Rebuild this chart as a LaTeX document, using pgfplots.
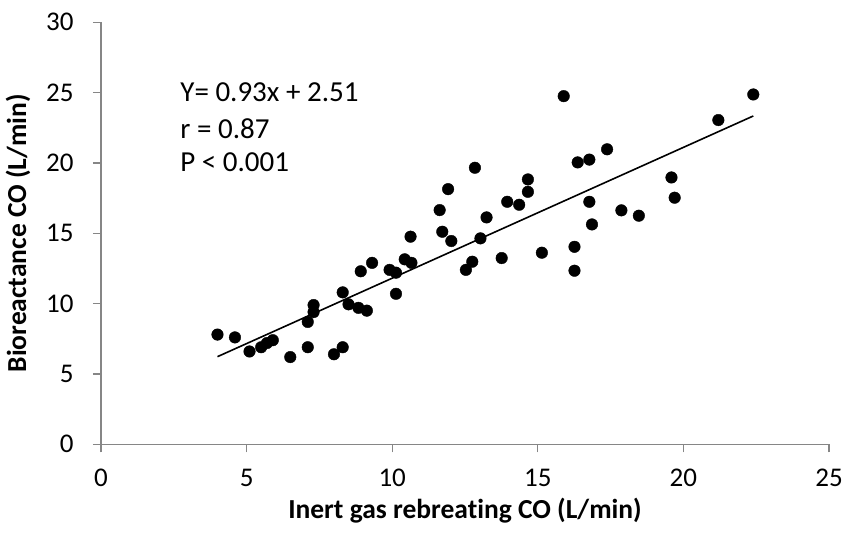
\documentclass[border=0pt]{standalone}
\usepackage{pgfplots}
\pgfplotsset{compat=1.18}
\usepackage{fontspec}
\setmainfont{Carlito}[Ligatures=NoCommon]
\definecolor{axgray}{RGB}{134,134,134}
\begin{document}
\begin{tikzpicture}
\useasboundingbox (-101bp,-93.7bp) rectangle (746bp,444.3bp);
\begin{axis}[
  scale only axis,
  width=728bp, height=422bp,
  xmin=0, xmax=25, ymin=0, ymax=30,
  xtick={0,5,...,25}, ytick={0,5,...,30},
  axis lines=left,
  axis line style={-, axgray, line width=1.2bp},
  tick style={axgray, line width=1.2bp},
  tick align=outside,
  major tick length=8bp,
  /pgf/number format/assume math mode=true,
  tick label style={font=\fontsize{27bp}{30bp}\selectfont},
  xticklabel style={yshift=-13bp},
  yticklabel style={xshift=-16bp},
  xlabel={\textbf{Inert gas rebreating CO (L/min)}},
  ylabel={\textbf{Bioreactance CO (L/min)}},
  label style={font=\fontsize{27.5bp}{30bp}\selectfont},
  xlabel style={at={(axis description cs:0.5,-0.1754)}, anchor=base},
  ylabel style={at={(axis description cs:-0.103,0.5)}, anchor=base},
  clip=false,
]
\addplot[only marks, mark=*, mark size=5.8bp, mark options={fill=black, draw=black}] coordinates {
(4.0,7.8) (4.6,7.6) (5.1,6.6) (5.5,6.9) (5.7,7.2) (5.9,7.4) (6.5,6.2)
(7.1,8.7) (7.1,6.9) (7.3,9.9) (7.3,9.4) (8.0,6.4) (8.3,6.9) (8.3,10.8)
(8.5,9.95) (8.84,9.7) (9.13,9.5) (8.92,12.3) (9.31,12.9) (9.91,12.4)
(10.13,12.2) (10.13,10.7) (10.43,13.15) (10.66,12.9) (10.63,14.76)
(11.63,16.65) (11.92,18.14) (11.72,15.11) (12.03,14.45) (12.53,12.4)
(12.75,12.98) (12.84,19.66) (13.03,14.64) (13.24,16.13) (13.76,13.24)
(13.95,17.24) (14.36,17.03) (14.66,18.83) (14.66,17.95) (15.14,13.62)
(16.26,14.04) (16.26,12.34) (16.37,20.04) (16.77,20.24) (15.89,24.75)
(17.38,20.97) (16.77,17.24) (16.86,15.63) (17.87,16.63) (18.47,16.25)
(19.59,18.97) (19.7,17.53) (21.2,23.05) (22.4,24.87)
};
\addplot[black, line width=1.6bp] coordinates {(4.0,6.23) (22.4,23.34)};
\node[anchor=base west, inner sep=0pt, font=\fontsize{29bp}{32bp}\selectfont] at (axis cs:2.72,24.35) {Y= 0.93x + 2.51};
\node[anchor=base west, inner sep=0pt, font=\fontsize{29bp}{32bp}\selectfont] at (axis cs:2.72,21.75) {r = 0.87};
\node[anchor=base west, inner sep=0pt, font=\fontsize{29bp}{32bp}\selectfont] at (axis cs:2.72,19.37) {P < 0.001};
\end{axis}
\end{tikzpicture}
\end{document}
